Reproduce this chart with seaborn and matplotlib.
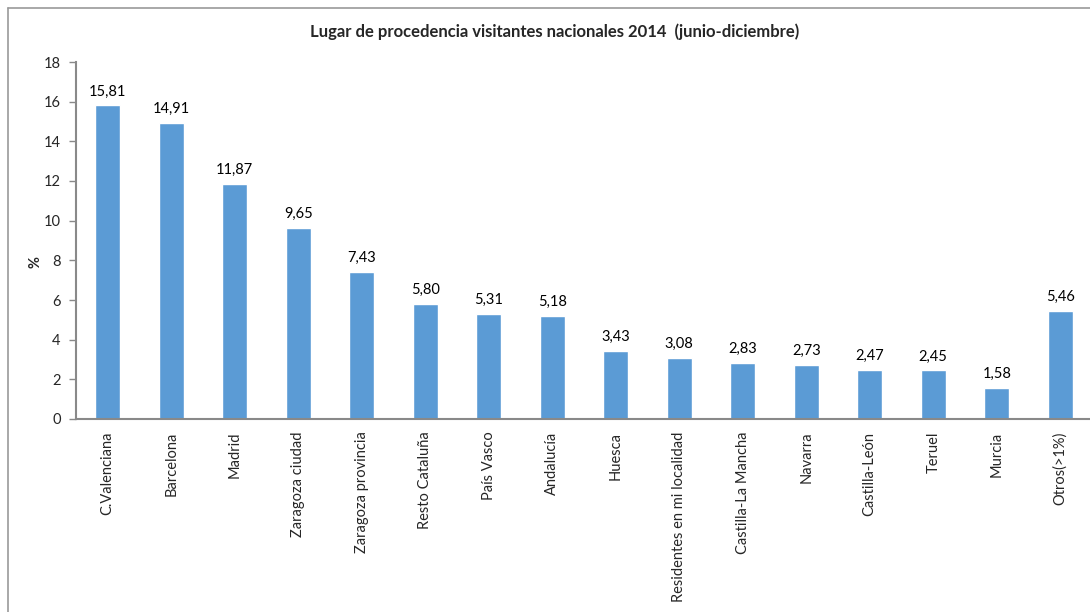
import matplotlib
matplotlib.use("Agg")
import matplotlib.pyplot as plt
import seaborn as sns
import pandas as pd
from matplotlib.lines import Line2D

categories = ["C.Valenciana", "Barcelona", "Madrid", "Zaragoza ciudad", "Zaragoza provincia",
              "Resto Cataluña", "País Vasco", "Andalucía", "Huesca", "Residentes en mi localidad",
              "Castilla-La Mancha", "Navarra", "Castilla-León", "Teruel", "Murcia", "Otros(>1%)"]
values = [15.81, 14.91, 11.87, 9.65, 7.43, 5.80, 5.31, 5.18, 3.43, 3.08, 2.83, 2.73, 2.47, 2.45, 1.58, 5.46]

sns.set_theme(style="white")
plt.rcParams['font.family'] = ['Lato', 'DejaVu Sans']

df = pd.DataFrame({"cat": categories, "val": values})
fig = plt.figure(figsize=(10.9, 6.12), dpi=100)
ax = fig.add_axes([76/1090, 1-419/612, 1016/1090, (419-62)/612])
sns.barplot(data=df, x="cat", y="val", color="#5B9BD5", width=0.39, saturation=1, ax=ax)

for i, v in enumerate(values):
    ax.text(i, v + 0.35, f"{v:.2f}".replace(".", ","), ha="center", va="bottom", fontsize=10.5, color="#000000")

ax.set_ylim(0, 18)
ax.set_yticks(range(0, 19, 2))
ax.set_xlim(-0.5, 15.5)
ax.set_xlabel("")
ax.set_ylabel("")
ax.tick_params(axis="y", labelsize=10.5, length=5, width=1, color="#898989", direction="out", pad=6)
ax.tick_params(axis="x", labelsize=10.5, length=0, pad=9)
ax.yaxis.set_ticks_position("left")
for lbl in ax.get_xticklabels():
    lbl.set_rotation(90)
for s in ["top", "right"]:
    ax.spines[s].set_visible(False)
for s in ["left", "bottom"]:
    ax.spines[s].set_color("#898989")
    ax.spines[s].set_linewidth(1.5)

fig.text(35/1090, 1-262/612, "%", ha="center", va="center", rotation=90,
         fontsize=10.5, fontweight="bold")
fig.text(555/1090, 1-32/612, "Lugar de procedencia visitantes nacionales 2014  (junio-diciembre)",
         ha="center", va="center", fontsize=12, fontweight="bold")

fig.add_artist(Line2D([8/1090, 8/1090], [0, 1-8/612], transform=fig.transFigure, color="#999999", lw=1.2))
fig.add_artist(Line2D([8/1090, 1], [1-8/612, 1-8/612], transform=fig.transFigure, color="#999999", lw=1.2))

fig.savefig("out.png", dpi=100, facecolor="white")
